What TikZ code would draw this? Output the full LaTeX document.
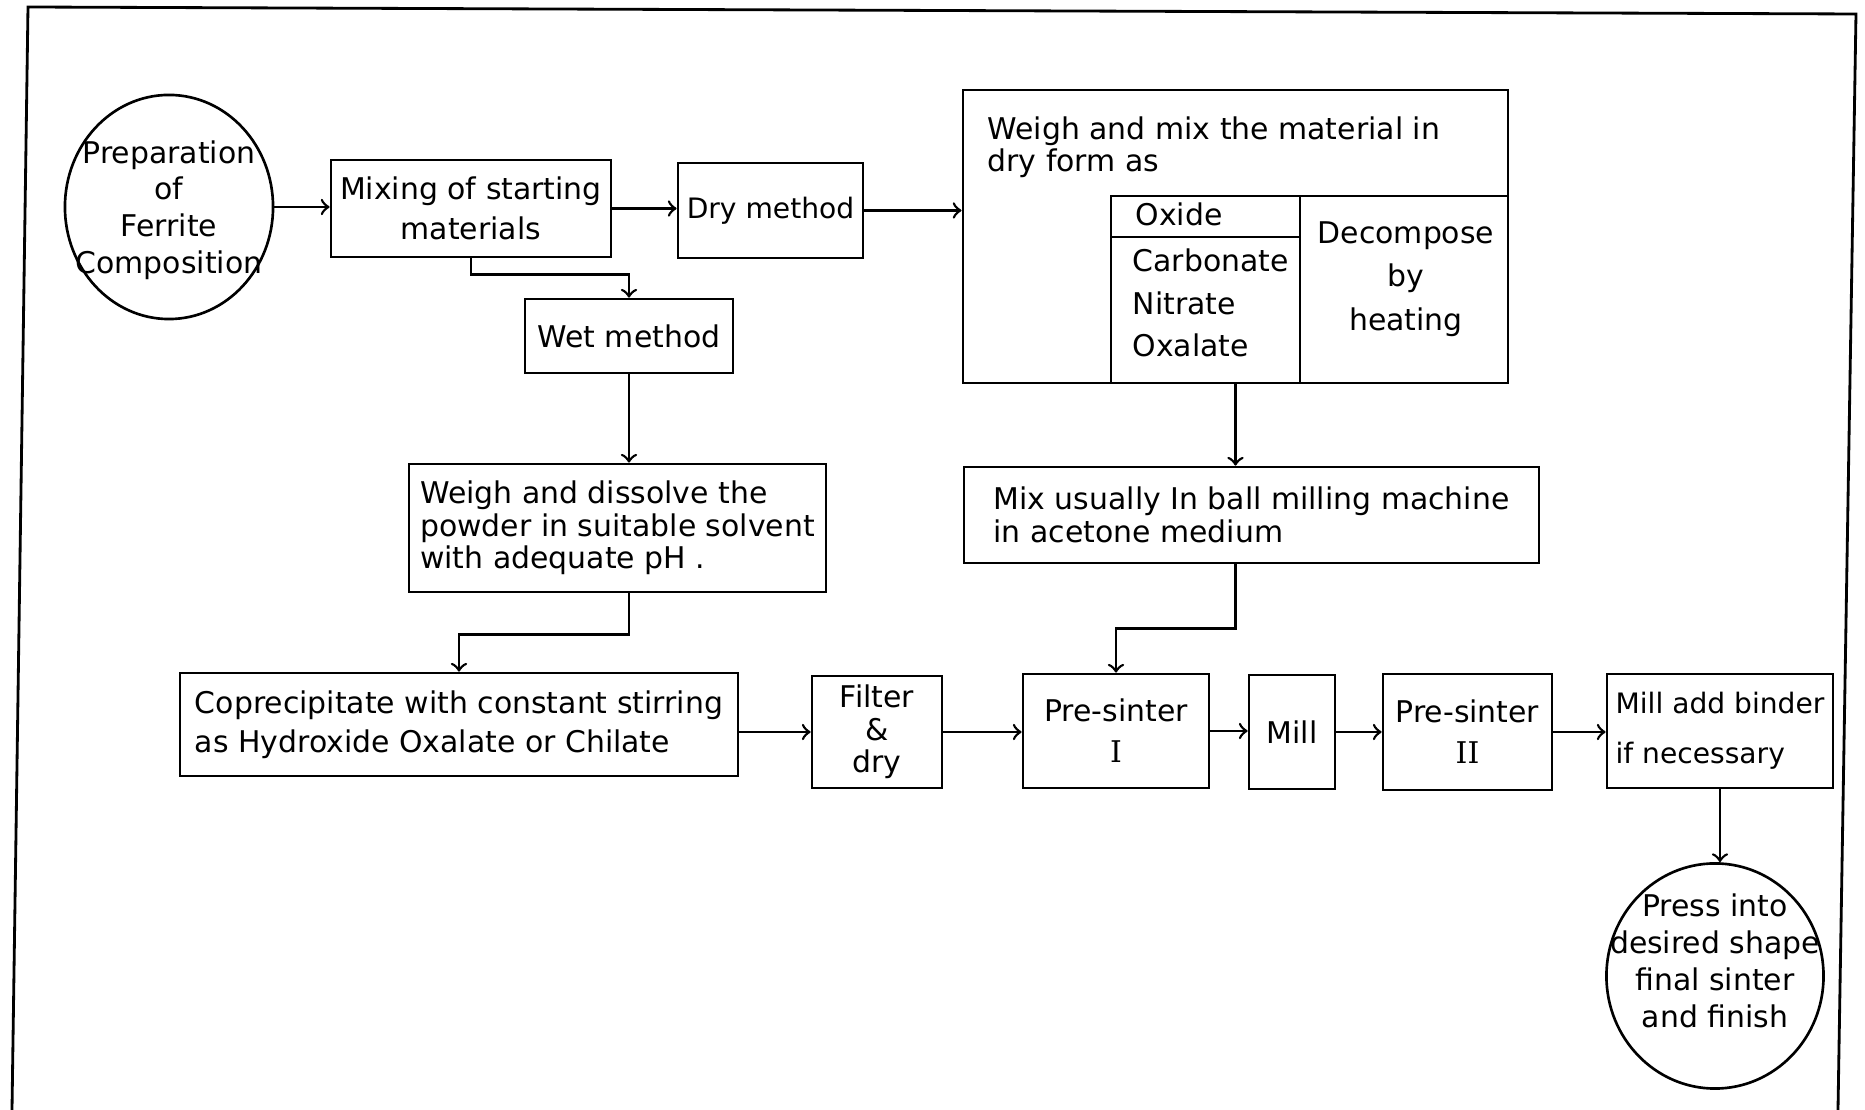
\documentclass[tikz,border=0pt]{standalone}
\usepackage{fontspec}
\setmainfont{DejaVu Sans}
\newfontfamily\romfont{DejaVu Serif}
\usetikzlibrary{arrows,shapes,positioning}

\tikzset{
  blk/.style={draw,line width=0.75pt,inner sep=0pt,align=center},
  rnd/.style={draw,ellipse,line width=0.75pt,inner sep=0pt},
  txt/.style={inner sep=0pt,align=left},
  con/.style={->,line width=0.75pt}
}

\begin{document}
\begin{tikzpicture}[x=0.01cm,y=-0.01cm,
    every node/.style={font=\fontsize{8.5}{9.2}\selectfont}]
  \useasboundingbox (0,0) rectangle (1865,1110);
  \draw[line width=0.8pt] (12,1110) -- (28,7) -- (1856,14) -- (1838,1110);

  \node[rnd,minimum width=2.08cm,minimum height=2.24cm] (prep) at (169,207) {};
  \node[txt,align=center] (preptext) at (169,210)
       {Preparation\\[1.2pt]of\\[1.2pt]Ferrite\\[1.2pt]Composition};
  \node[blk,minimum width=2.80cm,minimum height=0.97cm] (mixing) at (471,208.5)
       {Mixing of starting\\[2.2pt]materials};
  \node[blk,minimum width=1.85cm,minimum height=0.95cm,font=\fontsize{8}{9.2}\selectfont]
       (drym) at (770.5,210.5) {Dry method};
  \node[blk,minimum width=2.08cm,minimum height=0.74cm] (wetm) at (629,336) {Wet method};

  \node[blk,minimum width=5.45cm,minimum height=2.93cm] (weighmix) at (1235.5,236.5) {};
  \draw[line width=0.75pt] (1508,196) -- (1111,196) -- (1111,383);
  \draw[line width=0.75pt] (1111,237) -- (1300,237);
  \draw[line width=0.75pt] (1300,196) -- (1300,383);
  \node[txt,anchor=west] (wmtext) at (987,147.5) {Weigh and mix the material in\\dry form as};
  \node[txt,anchor=west] (oxide) at (1135,214) {Oxide};
  \node[txt,anchor=west] (salts) at (1132,303) {Carbonate\\[2.9pt]Nitrate\\[2.9pt]Oxalate};
  \node[txt,align=center] (decomp) at (1406,279) {Decompose\\[3.2pt]by\\[3.2pt]heating};

  \node[blk,align=left,minimum width=5.75cm,minimum height=0.96cm] (ballmix) at (1251.5,515)
       {Mix usually In ball milling machine\\in acetone medium};
  \node[blk,align=left,minimum width=4.17cm,minimum height=1.28cm] (dissolve) at (617.5,528)
       {Weigh and dissolve the\\powder in suitable solvent\\with adequate pH .};
  \node[blk,align=left,minimum width=5.58cm,minimum height=1.03cm] (coprec) at (459,724.5)
       {Coprecipitate with constant stirring\\[1.9pt]as Hydroxide Oxalate or Chilate};
  \node[blk,minimum width=1.30cm,minimum height=1.12cm] (filter) at (877,732) {Filter\\\&\\dry};
  \node[blk,minimum width=1.86cm,minimum height=1.14cm] (presint1) at (1116,731)
       {Pre-sinter\\[2.5pt]{\romfont I}};
  \node[blk,minimum width=0.86cm,minimum height=1.14cm] (mill) at (1292,732) {Mill};
  \node[blk,minimum width=1.69cm,minimum height=1.16cm] (presint2) at (1467.5,732)
       {Pre-sinter\\[2.5pt]{\romfont II}};
  \node[blk,align=left,minimum width=2.26cm,minimum height=1.14cm,font=\fontsize{8}{9.2}\selectfont]
       (binder) at (1720,731) {Mill add binder\\[5pt]if necessary};
  \node[rnd,minimum width=2.17cm,minimum height=2.25cm] (press) at (1715,976) {};
  \node[txt,align=center] (presstext) at (1715,961)
       {Press into\\[1.3pt]desired shape\\[1.3pt]final sinter\\[1.3pt]and finish};

  \draw[con] (prep.east) -- (prep.east -| mixing.west);
  \draw[con] (mixing.east) -- (mixing.east -| drym.west);
  \draw[con] (drym.east) -- (drym.east -| weighmix.west);
  \draw[con] (mixing.south) -- ++(0,16) -| (wetm.north);
  \draw[con] (wetm.south) -- (wetm.south |- dissolve.north);
  \draw[con] (dissolve.south -| wetm.south) -- ++(0,41) -| (coprec.north);
  \draw[con] (weighmix.south) -- (weighmix.south |- ballmix.north);
  \draw[con] (weighmix.south |- ballmix.south) -- ++(0,64) -| (presint1.north);
  \draw[con] (coprec.east |- filter.west) -- (filter.west);
  \draw[con] (filter.east) -- (filter.east -| presint1.west);
  \draw[con] (presint1.east) -- (presint1.east -| mill.west);
  \draw[con] (mill.east) -- (mill.east -| presint2.west);
  \draw[con] (presint2.east) -- (presint2.east -| binder.west);
  \draw[con] (binder.south) -- (binder.south |- press.north);
\end{tikzpicture}
\end{document}
